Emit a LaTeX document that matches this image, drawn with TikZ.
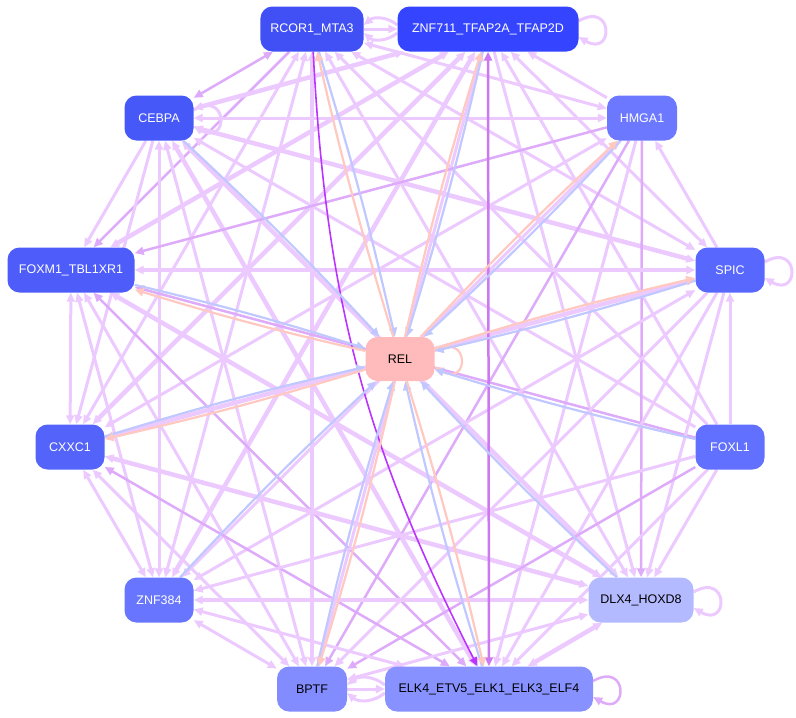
\documentclass[tikz,border=0pt]{standalone}
\usepackage{fontspec}
\setmainfont{Liberation Sans}
\usetikzlibrary{arrows.meta}
\definecolor{weak colour}{RGB}{236,202,255}
\definecolor{firm colour}{RGB}{222,170,250}
\definecolor{deep colour}{RGB}{187,51,255}
\definecolor{spine colour}{RGB}{204,120,240}
\definecolor{in colour}{RGB}{192,200,255}
\definecolor{out colour}{RGB}{255,200,192}
\definecolor{rcor fill}{RGB}{64,80,245}
\definecolor{znf fill}{RGB}{52,68,255}
\definecolor{cebpa fill}{RGB}{70,88,248}
\definecolor{hmga fill}{RGB}{108,120,255}
\definecolor{foxm fill}{RGB}{78,92,250}
\definecolor{spic fill}{RGB}{88,104,255}
\definecolor{cxxc fill}{RGB}{84,100,250}
\definecolor{foxl fill}{RGB}{98,112,255}
\definecolor{zn fill}{RGB}{104,118,255}
\definecolor{dlx fill}{RGB}{180,186,255}
\definecolor{bptf fill}{RGB}{130,140,255}
\definecolor{elk fill}{RGB}{135,145,255}
\definecolor{rel fill}{RGB}{255,187,187}
\pgfdeclarelayer{background}
\pgfsetlayers{background,main}
\tikzset{
    % Graphviz style filled arrow heads
    >={Triangle[length=9pt, width=8pt]},
%
    % Nodes of the network
    factor/.style={
        rectangle, rounded corners=12pt, text=white,
        minimum width=69pt, minimum height=45pt, inner xsep=10pt,
        font=\fontsize{12.5}{14}\selectfont},
    dark text/.style={text=black},
%
    % Edges between factors
    weak edge/.style={draw=weak colour, line width=3pt, ->},
    weak pair/.style={weak edge, <->},
    heavy pair/.style={weak edge, line width=4.5pt, <->},
    firm edge/.style={draw=firm colour, line width=2.5pt, ->},
    firm pair/.style={firm edge, <->},
    deep edge/.style={draw=deep colour, line width=1.6pt, ->},
    spine pair/.style={draw=spine colour, line width=2.5pt, <->},
%
    % Edges into and out of REL
    to rel/.style={draw=in colour, line width=2.2pt, ->},
    from rel/.style={draw=out colour, line width=2.2pt, ->},
%
    % Small loop on the right hand side of a node
    self loop/.style={out=30, in=-30, looseness=6.5},
}

\begin{document}
\begin{tikzpicture}[x=1pt, y=-1pt]

\useasboundingbox (0,0) rectangle (796,718);

\path
    (312,29) node [factor, fill=rcor fill] (rcor) {RCOR1\_MTA3}
    (488,29) node [factor, fill=znf fill, minimum width=181pt] (znf7) {ZNF711\_TFAP2A\_TFAP2D}
    (159,118) node [factor, fill=cebpa fill] (cebpa) {CEBPA}
    (642,118) node [factor, fill=hmga fill, minimum width=70pt] (hmga) {HMGA1}
    (71,270) node [factor, fill=foxm fill, minimum width=127pt] (foxm) {FOXM1\_TBL1XR1}
    (730,270) node [factor, fill=spic fill] (spic) {SPIC}
    (400,359) node [factor, fill=rel fill, dark text, minimum height=44pt] (rel) {REL}
    (70,447) node [factor, fill=cxxc fill] (cxxc) {CXXC1}
    (730,447) node [factor, fill=foxl fill] (foxl) {FOXL1}
    (159,600) node [factor, fill=zn fill] (znf3) {ZNF384}
    (641,600) node [factor, fill=dlx fill, dark text, minimum width=105pt] (dlx) {DLX4\_HOXD8}
    (312,689) node [factor, fill=bptf fill, dark text, minimum width=70pt] (bptf) {BPTF}
    (489,689) node [factor, fill=elk fill, dark text, minimum width=208pt] (elk) {ELK4\_ETV5\_ELK1\_ELK3\_ELF4};

\begin{pgfonlayer}{background}
% factor to factor
\foreach \src/\dst/\kind in {
    rcor/cebpa/firm pair, hmga/rcor/weak pair, rcor/foxm/firm edge,
    spic/rcor/weak pair, cxxc/rcor/weak pair, foxl/rcor/weak edge,
    znf3/rcor/weak pair, rcor/dlx/weak pair, bptf/rcor/heavy pair,
    cebpa/znf7/heavy pair, hmga/znf7/weak edge, foxm/znf7/heavy pair,
    spic/znf7/weak pair, cxxc/znf7/heavy pair, foxl/znf7/weak edge,
    znf3/znf7/heavy pair, znf7/dlx/weak edge, bptf/znf7/weak pair,
    cebpa/hmga/weak pair, cebpa/foxm/weak edge, cebpa/spic/heavy pair,
    cebpa/cxxc/weak edge, foxl/cebpa/weak edge, cebpa/znf3/weak pair,
    cebpa/dlx/heavy pair, cebpa/bptf/weak pair, cebpa/elk/heavy pair,
    hmga/foxm/firm edge, spic/hmga/weak edge, hmga/cxxc/weak pair,
    hmga/znf3/weak pair, hmga/dlx/firm edge, hmga/bptf/firm edge,
    hmga/elk/weak edge,
    foxm/spic/heavy pair, foxm/cxxc/weak pair, foxl/foxm/firm edge,
    foxm/znf3/weak pair, foxm/dlx/heavy pair, foxm/bptf/weak pair,
    foxm/elk/firm pair,
    spic/cxxc/heavy pair, foxl/spic/weak edge, spic/znf3/weak pair,
    spic/dlx/weak edge, spic/bptf/weak edge, spic/elk/weak edge,
    cxxc/znf3/weak pair, cxxc/dlx/heavy pair, cxxc/bptf/weak pair,
    cxxc/elk/firm pair,
    foxl/znf3/weak edge, foxl/dlx/weak edge, foxl/bptf/firm edge,
    foxl/elk/weak edge,
    znf3/dlx/heavy pair, znf3/bptf/weak pair, znf3/elk/weak pair,
    dlx/bptf/weak pair, dlx/elk/heavy pair}
    \draw [\kind] (\src) -- (\dst);

\draw [spine pair] (znf7) -- (elk);
\draw [deep edge] (rcor) to [bend right=12] (elk);

% short hops between neighbours
\draw [weak edge] (rcor) -- (znf7);
\draw [weak edge] ([yshift=4pt]znf7.west) to [bend right=40] ([yshift=4pt]rcor.east);
\draw [weak edge] ([yshift=-4pt]znf7.west) to [bend left=40] ([yshift=-4pt]rcor.east);
\draw [weak edge] (bptf) -- (elk);
\draw [weak edge] ([yshift=4pt]elk.west) to [bend right=40] ([yshift=4pt]bptf.east);
\draw [weak edge] ([yshift=-4pt]elk.west) to [bend left=40] ([yshift=-4pt]bptf.east);

% self loops
\foreach \fac in {znf7, cebpa, spic, dlx}
    \draw [weak edge] ([yshift=8pt]\fac.east) to [self loop] ([yshift=-8pt]\fac.east);
\draw [firm edge] ([yshift=8pt]elk.east) to [self loop] ([yshift=-8pt]elk.east);
\draw [from rel] ([yshift=8pt]rel.east) to [self loop] ([yshift=-8pt]rel.east);

% everything round REL
\foreach \fac in {cebpa, cxxc, foxl, znf3, dlx, rcor, znf7, hmga, foxm, spic, bptf, elk}
    \draw [to rel] (\fac) to [bend left=2] (rel);
\foreach \fac in {rcor, znf7, hmga, foxm, spic, cxxc, bptf, elk}
    \draw [from rel] (rel) to [bend left=2] (\fac);
\end{pgfonlayer}

\end{tikzpicture}
\end{document}
